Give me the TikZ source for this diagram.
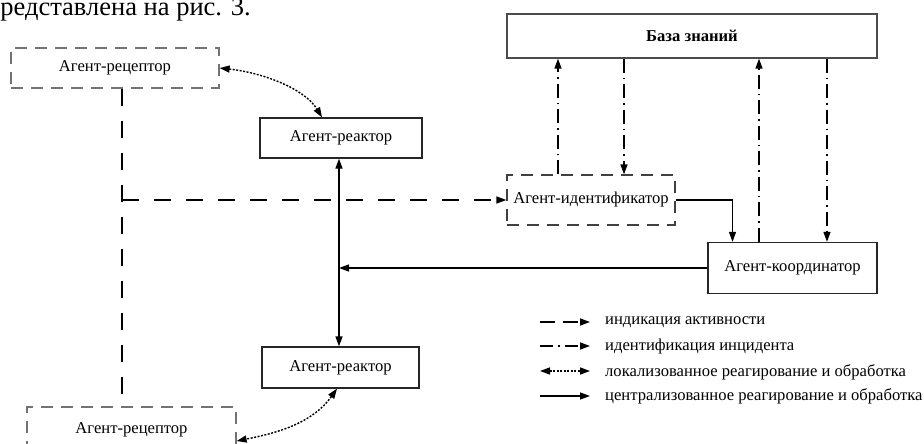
\documentclass[tikz,border=0pt]{standalone}
\usepackage{fontspec}
\setmainfont{Liberation Serif}
\usetikzlibrary{arrows.meta}
\begin{document}
\begin{tikzpicture}[x=1pt,y=-1pt,
  >={Triangle[length=10pt,width=7pt]},
  txt/.style={font=\fontsize{16.6}{19}\selectfont, inner sep=0pt},
  solidbox/.style={draw=black!85, line width=1.3pt, txt},
  recbox/.style={draw=black!55, line width=1.3pt, dash pattern=on 12pt off 8pt, txt},
  idbox/.style={draw=black!75, line width=1.3pt, dash pattern=on 12pt off 8pt, txt},
  actline/.style={line width=1.3pt, dash pattern=on 17pt off 15pt},
  idline/.style={line width=1.3pt, dash pattern=on 14pt off 5pt on 1.5pt off 5pt},
  locline/.style={line width=1.4pt, dash pattern=on 2pt off 1.5pt},
  cenline/.style={line width=1.3pt},
  legtxt/.style={txt, anchor=west}
]
\useasboundingbox (0,0) rectangle (924,444);
\clip (0,0) rectangle (924,444);
\fill[white] (0,0) rectangle (924,444);

\node[font=\fontsize{26.5}{29}\selectfont, anchor=base east, inner sep=0pt] (top) at (251,15.5) {представлена на рис. 3.};

\node[recbox, minimum width=208pt, minimum height=40pt] (rec1) at (115,68) {Агент-рецептор};
\node[solidbox, minimum width=162pt, minimum height=40pt] (reac1) at (341,138) {Агент-реактор};
\node[solidbox, draw=black!70, minimum width=370pt, minimum height=44pt] (kb) at (692,36) {\bfseries База знаний};
\node[idbox, minimum width=168pt, minimum height=50pt] (ident) at (591,200) {Агент-идентификатор};
\node[solidbox, minimum width=169pt, minimum height=51pt] (coord) at (792.5,268) {Агент-координатор};
\node[solidbox, minimum width=157pt, minimum height=41pt] (reac2) at (340.5,367.5) {Агент-реактор};
\node[recbox, minimum width=209pt, minimum height=68pt] (rec2) at (131.5,441) {};
\node[txt] (rec2t) at (131.5,430) {Агент-рецептор};

% activity indication
\coordinate (j) at (122,200);
\draw[actline] ([xshift=7pt]rec1.south) -- ([xshift=-9.5pt]rec2.north);
\draw[actline,->] (j) -- (ident.west);

% centralized
\coordinate (v) at (339,268);
\draw[cenline,<->] ([xshift=-2pt]reac1.south) -- ([xshift=-1.5pt]reac2.north);
\draw[cenline,->] (coord.west) -- (coord.west -| v);
\draw[cenline,->] (ident.east) -| ([xshift=-60pt]coord.north);

% identification
\draw[idline,->] ([xshift=-33pt]ident.north) -- ([xshift=-33pt]ident.north |- kb.south);
\draw[idline,->] ([xshift=33pt]ident.north |- kb.south) -- ([xshift=33pt]ident.north);
\draw[idline,->] ([xshift=-33.5pt]coord.north) -- ([xshift=-33.5pt]coord.north |- kb.south);
\draw[idline,->] ([xshift=34.5pt]coord.north |- kb.south) -- ([xshift=34.5pt]coord.north);

% localized
\draw[locline,<->] (rec1.east) .. controls +(45,5) and +(-17,-28) .. ([xshift=-19pt]reac1.north);
\draw[locline,<->] ([xshift=-3.5pt]reac2.south) .. controls +(-25,35) and +(40,-8) .. (rec2.east);

% legend
\coordinate (l1a) at (540,322); \coordinate (l1b) at (590,322);
\coordinate (l2a) at (540,346); \coordinate (l2b) at (590,346);
\coordinate (l3a) at (540,371); \coordinate (l3b) at (590,371);
\coordinate (l4a) at (540,396); \coordinate (l4b) at (590,396);
\draw[line width=1.3pt, dash pattern=on 15pt off 8pt, ->] (l1a) -- (l1b);
\draw[line width=1.3pt, dash pattern=on 13pt off 5pt on 1.5pt off 5pt, ->] (l2a) -- (l2b);
\draw[locline, <->] (l3a) -- (l3b);
\draw[cenline, ->] (l4a) -- (l4b);
\node[legtxt] (t1) at (605,322) {индикация активности};
\node[legtxt] (t2) at (605,347) {идентификация инцидента};
\node[legtxt] (t3) at (605,372) {локализованное реагирование и обработка};
\node[legtxt] (t4) at (605,396) {централизованное реагирование и обработка};
\end{tikzpicture}
\end{document}
